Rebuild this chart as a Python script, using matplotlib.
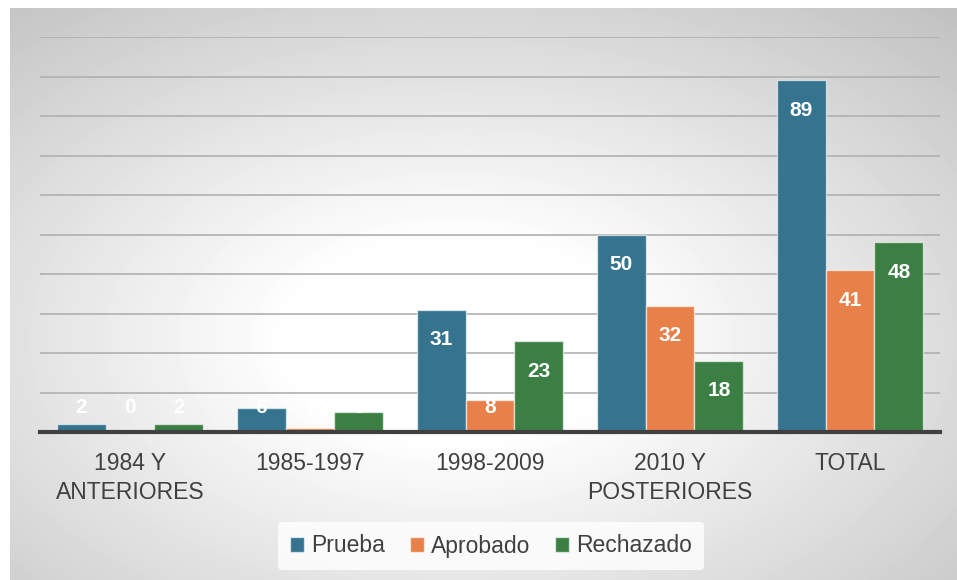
import numpy as np
import matplotlib
matplotlib.use("Agg")
import matplotlib.pyplot as plt

categories = ["1984 Y\nANTERIORES", "1985-1997", "1998-2009", "2010 Y\nPOSTERIORES", "TOTAL"]
series_names = ["Prueba", "Aprobado", "Rechazado"]
prueba = [2, 6, 31, 50, 89]
aprobado = [0, 1, 8, 32, 41]
rechazado = [2, 5, 23, 18, 48]
colors = ["#35738F", "#E8804A", "#3B7F45"]

W, H = 957, 580
fig = plt.figure(figsize=(W / 100, H / 100), dpi=100)
fig.patch.set_facecolor("white")

# radial gradient background of chart area
x0, y0 = 10, 8
bw_px, bh_px = W - x0, H - y0
bg = fig.add_axes([x0 / W, 0, bw_px / W, bh_px / H], zorder=0)
ny, nx = bh_px, bw_px
yy, xx = np.mgrid[0:ny, 0:nx]
cx, cy = 455 - x0, 340 - y0
r = np.sqrt(((xx - cx) / (nx * 0.5)) ** 2 + ((yy - cy) / (ny * 0.5)) ** 2)
val = np.clip(1 - 0.2 * np.maximum(0, r - 0.35), 0, 1)
bg.imshow(val, cmap="gray", vmin=0, vmax=1, aspect="auto", extent=[0, 1, 0, 1],
          interpolation="bilinear", origin="upper")
bg.axis("off")

ax = fig.add_axes([40 / W, 1 - 432 / H, 900 / W, (432 - 37) / H], zorder=1)
ax.patch.set_alpha(0)
ax.set_ylim(0, 100)
x = np.arange(len(categories))
ax.set_xlim(-0.5, len(categories) - 0.5)
bw = 0.272
data = [prueba, aprobado, rechazado]
for i, (vals, c, name) in enumerate(zip(data, colors, series_names)):
    pos = x + (i - 1) * bw
    ax.bar(pos, vals, width=bw, color=c, edgecolor=(1, 1, 1, 0.6), linewidth=1.0,
           label=name, zorder=3)
    for px, v in zip(pos, vals):
        ly = max(v - 7.6, 6.3)
        ax.text(px, ly, str(v), ha="center", va="center", color="white",
                fontsize=15, fontweight="bold", family="Liberation Sans", zorder=4)

ax.set_yticks(np.arange(10, 101, 10))
ax.yaxis.grid(True, color="#B0B0B0", linewidth=1.2, zorder=1)
ax.tick_params(axis="y", left=False, labelleft=False)
ax.tick_params(axis="x", bottom=False, pad=11)
ax.set_xticks(x)
ax.set_xticklabels(categories, fontsize=16.5, color="#404040", family="Liberation Sans",
                   linespacing=1.35)
for s in ["top", "right", "left"]:
    ax.spines[s].set_visible(False)
ax.spines["bottom"].set_color("#404040")
ax.spines["bottom"].set_linewidth(3)
ax.spines["bottom"].set_zorder(5)

leg = fig.legend(loc="center", bbox_to_anchor=(491 / W, 1 - 546 / H), ncol=3,
                 frameon=True, handlelength=0.6, handleheight=0.6,
                 handletextpad=0.3, columnspacing=1.1, borderpad=0.55,
                 prop={"family": "Liberation Sans", "size": 16.5})
leg.get_frame().set_facecolor((1, 1, 1, 0.15))
leg.get_frame().set_edgecolor("none")
for t in leg.get_texts():
    t.set_color("#404040")

fig.savefig("out.png", dpi=100)
